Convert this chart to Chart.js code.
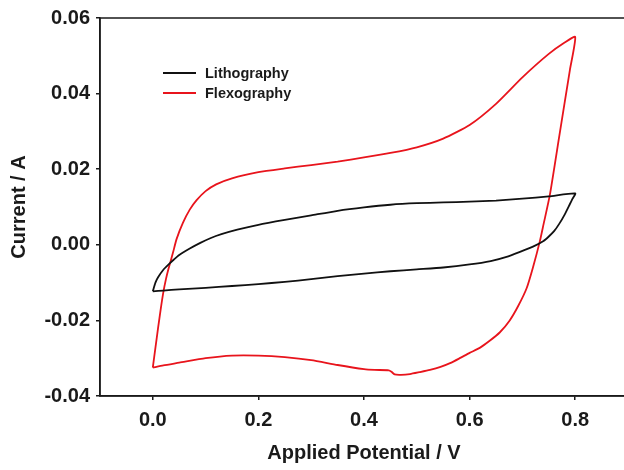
<!DOCTYPE html>
<html>
<head>
<meta charset="utf-8">
<script src="https://cdn.jsdelivr.net/npm/chart.js@4.4.0/dist/chart.umd.min.js"></script>
<style>
    html, body { margin: 0; padding: 0; background: #fff; overflow: hidden; }
    #wrap { width: 624px; height: 470px; overflow: hidden; position: relative; }
    #box { width: 640px; height: 470px; }
</style>
</head>
<body>
<div id="wrap"><div id="box"><canvas id="cv"></canvas></div></div>
<script>
// Lithography loop: forward sweep 0 -> 0.8 V, then back to 0 V
const lithoV = [0, 0.005, 0.01, 0.02, 0.03, 0.04, 0.05, 0.07, 0.09, 0.11, 0.13, 0.16, 0.2, 0.25, 0.3, 0.35, 0.4, 0.45, 0.5, 0.55, 0.6, 0.65, 0.7, 0.75, 0.8,
    0.795, 0.79, 0.78, 0.77, 0.76, 0.75, 0.74, 0.72, 0.7, 0.67, 0.64, 0.6, 0.55, 0.5, 0.45, 0.4, 0.35, 0.3, 0.25, 0.2, 0.15, 0.1, 0.05, 0.02, 0];
const lithoI = [-0.0123, -0.0100, -0.0086, -0.0066, -0.0052, -0.0039, -0.0027, -0.0010, 0.0005, 0.0018, 0.0028, 0.0040, 0.0053, 0.0066, 0.0078, 0.0090, 0.0099, 0.0106, 0.0110, 0.0112, 0.0114, 0.0117, 0.0122, 0.0128, 0.0136,
    0.0122, 0.0108, 0.0080, 0.0056, 0.0036, 0.0022, 0.0010, -0.0005, -0.0016, -0.0032, -0.0043, -0.0052, -0.0060, -0.0065, -0.0070, -0.0076, -0.0083, -0.0091, -0.0098, -0.0104, -0.0109, -0.0114, -0.0118, -0.0121, -0.0123];

// Flexography loop
const flexoV = [0, 0.005, 0.01, 0.015, 0.02, 0.025, 0.03, 0.038, 0.045, 0.057, 0.07, 0.083, 0.1, 0.12, 0.15, 0.2, 0.25, 0.3, 0.35, 0.4, 0.45, 0.5, 0.55, 0.6, 0.65, 0.7, 0.75, 0.78, 0.8,
    0.79, 0.77, 0.752, 0.74, 0.733, 0.72, 0.708, 0.692, 0.676, 0.657, 0.638, 0.62, 0.6, 0.58, 0.563, 0.545, 0.525, 0.505, 0.487, 0.47, 0.458, 0.452, 0.447, 0.42, 0.4, 0.35, 0.3, 0.25, 0.2, 0.15, 0.1, 0.05, 0.02, 0];
const flexoI = [-0.0325, -0.0272, -0.0220, -0.0170, -0.0125, -0.0090, -0.0062, -0.0022, 0.0015, 0.0058, 0.0093, 0.0118, 0.0142, 0.0160, 0.0176, 0.0192, 0.0202, 0.0211, 0.0220, 0.0231, 0.0243, 0.0258, 0.0281, 0.0317, 0.0373, 0.0443, 0.0505, 0.0535, 0.0550,
    0.0463, 0.0289, 0.0132, 0.0054, 0.0009, -0.0060, -0.0115, -0.0162, -0.0200, -0.0232, -0.0254, -0.0272, -0.0286, -0.0301, -0.0313, -0.0323, -0.0331, -0.0337, -0.0342, -0.0344, -0.0343, -0.0336, -0.0332, -0.0331, -0.0329, -0.0318, -0.0305, -0.0297, -0.0293, -0.0293, -0.0300, -0.0312, -0.0319, -0.0325];

const xTicks = [0, 0.2, 0.4, 0.6, 0.8];
const yTicks = [-0.04, -0.02, 0, 0.02, 0.04, 0.06];

const FONT = '"Liberation Sans", Arial, sans-serif';
const INK = '#1a1a1a';

function toPoints(xs, ys) {
    return xs.map((x, i) => ({ x: x, y: ys[i] }));
}

// frame round the plot area
const framePlugin = {
    id: 'frame',
    afterDraw(chart) {
        const a = chart.chartArea, ctx = chart.ctx;
        ctx.save();
        ctx.strokeStyle = INK;
        ctx.lineWidth = 1.5;
        ctx.strokeRect(a.left, a.top, a.right - a.left, a.bottom - a.top);
        ctx.restore();
    }
};

// legend inside the plot, top-left
const legendPlugin = {
    id: 'insideLegend',
    afterDraw(chart) {
        const ctx = chart.ctx;
        ctx.save();
        ctx.font = 'bold 14.5px ' + FONT;
        ctx.textBaseline = 'middle';
        chart.data.datasets.forEach((ds, i) => {
            const y = 73 + i * 20;
            ctx.strokeStyle = ds.borderColor;
            ctx.lineWidth = 2;
            ctx.beginPath();
            ctx.moveTo(163, y);
            ctx.lineTo(196, y);
            ctx.stroke();
            ctx.fillStyle = INK;
            ctx.fillText(ds.label, 205, y + 1);
        });
        ctx.restore();
    }
};

new Chart(document.getElementById('cv'), {
    type: 'scatter',
    data: {
        datasets: [
            {
                label: 'Lithography',
                data: toPoints(lithoV, lithoI),
                showLine: true,
                borderColor: '#111111',
                borderWidth: 1.8,
                pointRadius: 0,
                tension: 0.2
            },
            {
                label: 'Flexography',
                data: toPoints(flexoV, flexoI),
                showLine: true,
                borderColor: '#e8141c',
                borderWidth: 1.8,
                pointRadius: 0,
                tension: 0.2
            }
        ]
    },
    options: {
        responsive: true,
        maintainAspectRatio: false,
        animation: false,
        layout: { padding: { top: 16, right: 12, left: 0, bottom: 0 } },
        plugins: {
            legend: { display: false },
            tooltip: { enabled: false }
        },
        scales: {
            x: {
                type: 'linear',
                min: -0.1,
                max: 0.9,
                afterBuildTicks: (s) => { s.ticks = xTicks.map(v => ({ value: v })); },
                afterFit: (s) => { s.height = 74; },
                ticks: {
                    color: INK,
                    font: { family: FONT, size: 20, weight: 'bold' },
                    padding: 8,
                    callback: (v) => Number(v).toFixed(1)
                },
                grid: { display: true, drawOnChartArea: false, drawTicks: true, tickLength: 4, color: INK, lineWidth: 1.5 },
                border: { display: true, color: INK, width: 1.5 },
                title: {
                    display: true,
                    text: 'Applied Potential / V',
                    color: INK,
                    font: { family: FONT, size: 20, weight: 'bold' },
                    padding: { top: 0, bottom: 5 }
                }
            },
            y: {
                type: 'linear',
                min: -0.04,
                max: 0.06,
                afterBuildTicks: (s) => { s.ticks = yTicks.map(v => ({ value: v })); },
                afterFit: (s) => { s.width = 100; },
                ticks: {
                    color: INK,
                    font: { family: FONT, size: 20, weight: 'bold' },
                    padding: 6,
                    callback: (v) => Number(v).toFixed(2)
                },
                grid: { display: true, drawOnChartArea: false, drawTicks: true, tickLength: 4, color: INK, lineWidth: 1.5 },
                border: { display: true, color: INK, width: 1.5 },
                title: {
                    display: true,
                    text: 'Current / A',
                    color: INK,
                    font: { family: FONT, size: 20, weight: 'bold' },
                    padding: { top: 7, bottom: 0 }
                }
            }
        }
    },
    plugins: [framePlugin, legendPlugin]
});
</script>
</body>
</html>
